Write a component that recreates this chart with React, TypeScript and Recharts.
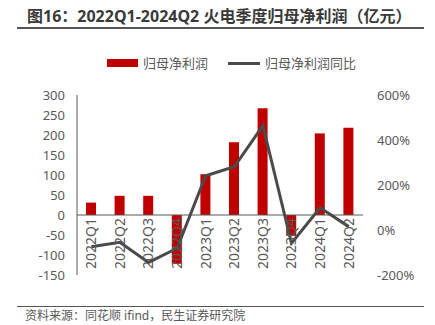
import React from "react";
import {
  ComposedChart,
  Bar,
  Line,
  XAxis,
  YAxis,
  ReferenceLine,
} from "recharts";

const quarters = [
  "2022Q1", "2022Q2", "2022Q3", "2022Q4", "2023Q1",
  "2023Q2", "2023Q3", "2023Q4", "2024Q1", "2024Q2",
];
const netProfit = [31, 48, 48, -122, 102, 182, 267, -52, 204, 218];
const yoy = [-74, -55, -144, -81, 241, 281, 464, -59, 99, 15];
const leftTicks = [-150, -100, -50, 0, 50, 100, 150, 200, 250, 300];
const rightTicks = [-200, 0, 200, 400, 600];

const data = quarters.map((q, i) => ({ q, profit: netProfit[i], yoy: yoy[i] }));

const FONT = "'Noto Sans', 'Noto Sans CJK SC', sans-serif";
const GRAY = "#595959";
const PLOT_TOP = 95;
const PLOT_H = 180;
// y of the zero line on the left axis
const ZERO_Y = PLOT_TOP + (300 / 450) * PLOT_H;

const renderQuarterTick = (props: any) => {
  const { x, payload, index } = props;
  return (
    <text
      key={`qt-${index}`}
      transform={`translate(${x},${ZERO_Y + 3}) rotate(-90)`}
      textAnchor="end"
      dy="0.35em"
      fill={GRAY}
      fontSize={14}
      fontFamily={FONT}
    >
      {payload.value}
    </text>
  );
};

export default function App() {
  return (
    <div
      style={{
        position: "fixed",
        left: 0,
        top: 0,
        width: 435,
        height: 325,
        background: "#fff",
        fontFamily: FONT,
        overflow: "hidden",
      }}
    >
      <div
        style={{
          position: "absolute",
          left: 27,
          top: 5,
          fontSize: 16,
          fontWeight: 700,
          color: "#3a3a3a",
          whiteSpace: "nowrap",
          lineHeight: "22px",
        }}
      >
        图16：2022Q1-2024Q2 火电季度归母净利润（亿元）
      </div>
      <div
        style={{
          position: "absolute",
          left: 17,
          top: 27,
          width: 407,
          height: 2,
          background: "#555",
        }}
      />

      {/* legend */}
      <div
        style={{
          position: "absolute",
          left: 107,
          top: 54,
          display: "flex",
          alignItems: "center",
          fontSize: 13,
          color: GRAY,
          whiteSpace: "nowrap",
          lineHeight: "18px",
        }}
      >
        <span style={{ display: "inline-block", width: 31, height: 8, background: "#C00000" }} />
        <span style={{ marginLeft: 5 }}>归母净利润</span>
        <span style={{ display: "inline-block", width: 32, height: 3, background: "#4a4a4a", marginLeft: 20 }} />
        <span style={{ marginLeft: 5 }}>归母净利润同比</span>
      </div>

      <div style={{ position: "absolute", left: 0, top: 0 }}>
        <ComposedChart
          width={435}
          height={325}
          data={data}
          margin={{ top: PLOT_TOP, right: 0, bottom: 325 - PLOT_TOP - PLOT_H - 20, left: 0 }}
        >
          <XAxis
            dataKey="q"
            height={20}
            axisLine={false}
            tickLine={false}
            interval={0}
            tick={renderQuarterTick}
          />
          <YAxis
            yAxisId="left"
            width={77}
            domain={[-150, 300]}
            ticks={leftTicks}
            interval={0}
            tickLine={false}
            axisLine={{ stroke: GRAY, strokeWidth: 1 }}
            tickMargin={6}
            tick={{ fill: GRAY, fontSize: 13, fontFamily: FONT }}
          />
          <YAxis
            yAxisId="right"
            orientation="right"
            width={72}
            domain={[-200, 600]}
            ticks={rightTicks}
            interval={0}
            tickLine={false}
            axisLine={false}
            tickMargin={8}
            tickFormatter={(v: number) => `${v}%`}
            tick={{ fill: GRAY, fontSize: 13, fontFamily: FONT, textAnchor: "start" }}
          />
          <Bar
            yAxisId="left"
            dataKey="profit"
            fill="#C00000"
            barSize={10}
            isAnimationActive={false}
          />
          <ReferenceLine yAxisId="left" y={0} stroke={GRAY} strokeWidth={1} />
          <Line
            yAxisId="right"
            dataKey="yoy"
            stroke="#4a4a4a"
            strokeWidth={3}
            dot={false}
            type="linear"
            isAnimationActive={false}
          />
        </ComposedChart>
      </div>

      <div
        style={{
          position: "absolute",
          left: 17,
          top: 306,
          width: 407,
          height: 1,
          background: "#555",
        }}
      />
      <div
        style={{
          position: "absolute",
          left: 25,
          top: 308,
          fontSize: 12,
          color: GRAY,
          whiteSpace: "nowrap",
          lineHeight: "15px",
        }}
      >
        资料来源：同花顺 ifind，民生证券研究院
      </div>
    </div>
  );
}
